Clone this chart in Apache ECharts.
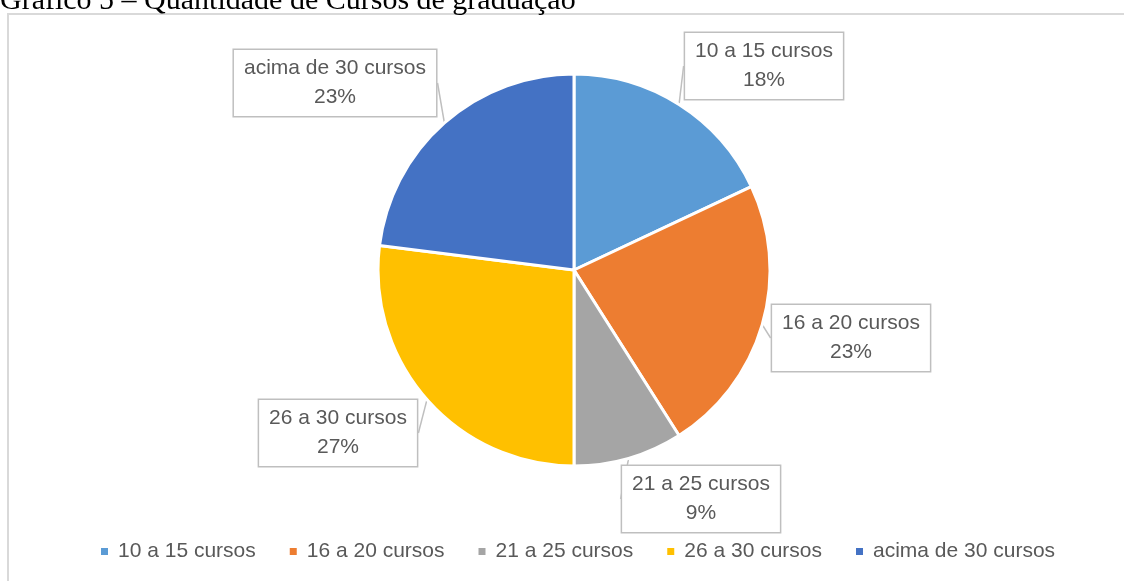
<!DOCTYPE html>
<html>
<head>
<meta charset="utf-8">
<script src="https://cdn.jsdelivr.net/npm/echarts@6/dist/echarts.min.js"></script>
<style>
  html, body { margin: 0; padding: 0; background: #fff; }
  #grafico { width: 1124px; height: 581px; }
</style>
</head>
<body>
<div id="grafico"></div>
<script>
// Categorias e valores (%)
const categorias = ['10 a 15 cursos', '16 a 20 cursos', '21 a 25 cursos', '26 a 30 cursos', 'acima de 30 cursos'];
const valores = [18, 23, 9, 27, 23];
const cores = ['#5B9BD5', '#ED7D31', '#A5A5A5', '#FFC000', '#4472C4'];

// Posição (centro) das caixas de rótulo
const posRotulos = [[764, 66], [851, 338], [701, 499], [338, 433], [335, 83]];

const fonte = "'Liberation Sans', Arial, sans-serif";

const grafico = echarts.init(document.getElementById('grafico'));

grafico.setOption({
    backgroundColor: '#ffffff',
    animation: false,
    title: {
        text: 'Gráfico 5 – Quantidade de Cursos de graduação',
        left: 0,
        top: -14,
        padding: 0,
        textStyle: {
            fontFamily: "'Liberation Serif', 'Times New Roman', serif",
            fontSize: 30,
            fontWeight: 'normal',
            color: '#000000',
            lineHeight: 30
        }
    },
    graphic: [{
        type: 'rect',
        shape: { x: 8, y: 14, width: 1130, height: 580 },
        style: { fill: 'none', stroke: '#d9d9d9', lineWidth: 2 },
        silent: true
    }],
    legend: {
        bottom: 14,
        left: 94,
        itemWidth: 9,
        itemHeight: 9,
        itemGap: 32,
        icon: 'rect',
        textStyle: {
            fontFamily: fonte,
            fontSize: 21,
            color: '#595959',
            padding: [0, 0, 0, 4]
        },
        data: categorias
    },
    series: [{
        type: 'pie',
        center: [574, 270],
        radius: [0, 196],
        startAngle: 90,
        clockwise: true,
        data: categorias.map((nome, i) => ({
            name: nome,
            value: valores[i],
            itemStyle: { color: cores[i] }
        })),
        itemStyle: {
            borderColor: '#ffffff',
            borderWidth: 3
        },
        label: {
            show: true,
            position: 'outside',
            formatter: '{b}\n{c}%',
            fontFamily: fonte,
            fontSize: 21,
            lineHeight: 29,
            color: '#595959',
            align: 'center',
            backgroundColor: '#ffffff',
            borderColor: '#bfbfbf',
            borderWidth: 1.5,
            padding: [4, 10, 4, 10]
        },
        labelLine: {
            show: true,
            length: 2,
            length2: 0,
            lineStyle: { color: '#bfbfbf', width: 1.5 }
        },
        labelLayout: function (params) {
            const p = posRotulos[params.dataIndex];
            return { x: p[0], y: p[1], align: 'center', verticalAlign: 'middle' };
        },
        emphasis: { disabled: true }
    }]
});
</script>
</body>
</html>
